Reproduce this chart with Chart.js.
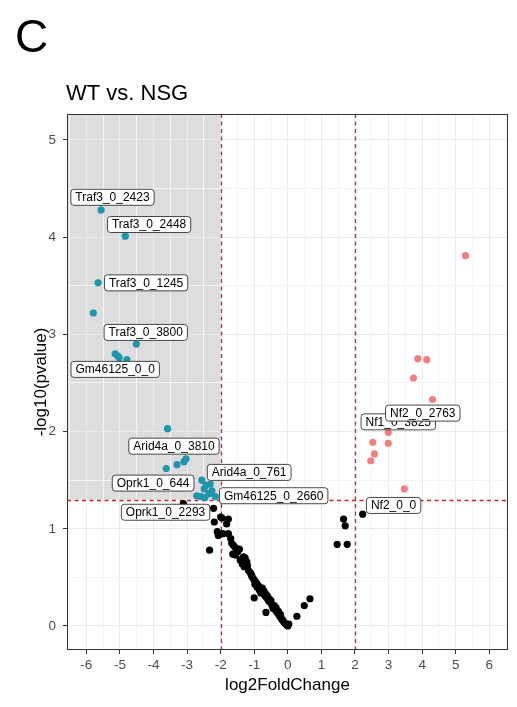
<!DOCTYPE html>
<html>
<head>
<meta charset="utf-8">
<script src="https://cdn.jsdelivr.net/npm/chart.js@4/dist/chart.umd.min.js"></script>
<style>
  html, body { margin: 0; padding: 0; background: #ffffff; }
  canvas { display: block; }
</style>
</head>
<body>
<canvas id="volcano" width="517" height="707"></canvas>
<script>
// Volcano plot: WT vs. NSG (log2 fold change against -log10 p-value)

const panelLetter = 'C';
const plotTitle = 'WT vs. NSG';
const xTitle = 'log2FoldChange';
const yTitle = '-log10(pvalue)';

// cut-offs used for the shaded quadrant and dashed guides
const fcCut = 2;
const pCut = -Math.log10(0.05);

// axis tick labels
const xTickLabels = [-6, -5, -4, -3, -2, -1, 0, 1, 2, 3, 4, 5, 6];
const yTickLabels = [0, 1, 2, 3, 4, 5];

// not significant (black)
const nsPoints = [
  [-3.11, 1.26], [-2.21, 1.21], [-1.96, 1.11], [-1.77, 1.10], [-2.00, 1.12], [-2.19, 1.07],
  [-1.82, 1.05], [-2.10, 0.97], [-2.07, 0.93], [-1.93, 0.95], [-1.77, 0.95], [-2.33, 0.78],
  [-1.70, 0.90], [-1.67, 0.85], [-1.62, 0.83], [-1.57, 0.81], [-1.44, 0.79], [-1.64, 0.74],
  [-1.56, 0.73], [-1.50, 0.76], [-1.32, 0.71], [-1.42, 0.68], [-1.27, 0.70], [-1.22, 0.66],
  [-1.36, 0.64], [-1.30, 0.61], [-1.20, 0.62], [-1.17, 0.57], [-1.12, 0.55], [-1.09, 0.53],
  [-1.07, 0.51], [-1.03, 0.49], [-1.00, 0.47], [-0.97, 0.46], [-0.94, 0.44], [-0.91, 0.43],
  [-0.87, 0.41], [-0.84, 0.40], [-0.81, 0.38], [-0.78, 0.37], [-0.75, 0.36], [-0.73, 0.34],
  [-0.70, 0.33], [-0.68, 0.31], [-0.65, 0.30], [-0.62, 0.29], [-0.60, 0.28], [-0.57, 0.26],
  [-0.54, 0.25], [-0.51, 0.24], [-0.48, 0.22], [-0.45, 0.21], [-0.42, 0.19], [-0.39, 0.18],
  [-0.36, 0.16], [-0.33, 0.15], [-0.30, 0.13], [-0.27, 0.12], [-0.24, 0.10], [-0.21, 0.09],
  [-0.18, 0.07], [-0.15, 0.06], [-0.12, 0.04], [-0.09, 0.03], [-0.06, 0.02], [-0.03, 0.01],
  [0.00, 0.00], [0.03, 0.02], [-0.98, 0.43], [-0.92, 0.40], [-0.85, 0.37], [-0.80, 0.34],
  [-0.76, 0.39], [-0.71, 0.36], [-0.66, 0.33], [-0.61, 0.31], [-0.55, 0.28], [-0.50, 0.26],
  [-0.44, 0.18], [-0.40, 0.21], [-0.35, 0.19], [-0.28, 0.15], [-0.22, 0.12], [-1.00, 0.29],
  [-0.65, 0.14], [0.27, 0.10], [0.49, 0.21], [0.66, 0.28], [1.66, 1.10], [1.71, 1.03],
  [1.47, 0.84], [1.77, 0.84], [2.23, 1.15]
];

// significantly down (teal)
const downPoints = [
  [-5.56, 4.28], [-4.84, 4.01], [-5.65, 3.53], [-5.79, 3.22], [-4.51, 2.90], [-5.14, 2.80],
  [-5.07, 2.78], [-5.02, 2.76], [-4.79, 2.74], [-3.58, 2.03], [-3.62, 1.62], [-3.30, 1.66],
  [-3.09, 1.69], [-3.03, 1.72], [-2.56, 1.50], [-2.43, 1.45], [-2.31, 1.46], [-2.49, 1.41],
  [-2.26, 1.39], [-2.71, 1.34], [-2.58, 1.33], [-2.47, 1.32], [-2.16, 1.33], [-2.35, 1.36]
];

// significantly up (pink)
const upPoints = [
  [5.29, 3.81], [3.87, 2.75], [4.14, 2.74], [3.74, 2.55], [4.31, 2.33], [2.99, 1.99],
  [2.53, 1.89], [2.99, 1.88], [2.58, 1.77], [2.47, 1.70], [3.47, 1.41]
];

// gene labels and where their boxes sit (data units)
const geneLabels = [
  'Traf3_0_2423', 'Traf3_0_2448', 'Traf3_0_1245', 'Traf3_0_3800', 'Gm46125_0_0',
  'Arid4a_0_3810', 'Arid4a_0_761', 'Oprk1_0_644', 'Gm46125_0_2660', 'Oprk1_0_2293',
  'Nf1_0_3825', 'Nf2_0_2763', 'Nf2_0_0'
];
const labelX = [-5.22, -4.13, -4.22, -4.23, -5.14, -3.39, -1.15, -4.01, -0.42, -3.64, 3.29, 4.02, 3.15];
const labelY = [4.41, 4.13, 3.53, 3.02, 2.64, 1.85, 1.58, 1.47, 1.34, 1.17, 2.10, 2.19, 1.24];

const FONT = "'Liberation Sans', Arial, Helvetica, sans-serif";
const toXY = arr => arr.map(p => ({ x: p[0], y: p[1] }));
const isWhole = v => Math.abs(v - Math.round(v)) < 1e-9;

function halfSteps(lo, hi) {
  const out = [];
  for (let v = lo; v <= hi + 1e-9; v += 0.5) out.push({ value: Math.round(v * 10) / 10 });
  return out;
}

function roundRect(ctx, x, y, w, h, r) {
  ctx.beginPath();
  ctx.moveTo(x + r, y);
  ctx.lineTo(x + w - r, y);
  ctx.arcTo(x + w, y, x + w, y + r, r);
  ctx.lineTo(x + w, y + h - r);
  ctx.arcTo(x + w, y + h, x + w - r, y + h, r);
  ctx.lineTo(x + r, y + h);
  ctx.arcTo(x, y + h, x, y + h - r, r);
  ctx.lineTo(x, y + r);
  ctx.arcTo(x, y, x + r, y, r);
  ctx.closePath();
}

const panelDecor = {
  id: 'panelDecor',
  beforeDraw(chart) {
    const { ctx, chartArea: a, scales: { x, y } } = chart;
    ctx.save();
    ctx.fillStyle = '#ffffff';
    ctx.fillRect(0, 0, chart.width, chart.height);
    // shaded region: strong down-regulation
    const xr = x.getPixelForValue(-fcCut);
    const yb = y.getPixelForValue(pCut);
    ctx.fillStyle = '#DDDDDD';
    ctx.fillRect(a.left, a.top, xr - a.left, yb - a.top);
    ctx.restore();
  },
  beforeDatasetsDraw(chart) {
    const { ctx, chartArea: a, scales: { x, y } } = chart;
    ctx.save();
    ctx.strokeStyle = '#C8262B';
    ctx.lineWidth = 1.3;
    ctx.setLineDash([4, 3.5]);
    [-fcCut, fcCut].forEach(v => {
      const px = Math.round(x.getPixelForValue(v)) + 0.5;
      ctx.beginPath();
      ctx.moveTo(px, a.top);
      ctx.lineTo(px, a.bottom);
      ctx.stroke();
    });
    const py = Math.round(y.getPixelForValue(pCut)) + 0.5;
    ctx.beginPath();
    ctx.moveTo(a.left, py);
    ctx.lineTo(a.right, py);
    ctx.stroke();
    ctx.restore();
  },
  afterDatasetsDraw(chart) {
    const { ctx, chartArea: a, scales: { x, y } } = chart;
    ctx.save();
    // gene labels
    ctx.font = '12px ' + FONT;
    ctx.textAlign = 'center';
    ctx.textBaseline = 'middle';
    geneLabels.forEach((name, i) => {
      const cx = x.getPixelForValue(labelX[i]);
      const cy = y.getPixelForValue(labelY[i]);
      const w = ctx.measureText(name).width + 9;
      const h = 16;
      roundRect(ctx, cx - w / 2, cy - h / 2, w, h, 3);
      ctx.fillStyle = '#ffffff';
      ctx.fill();
      ctx.strokeStyle = '#333333';
      ctx.lineWidth = 0.9;
      ctx.stroke();
      ctx.fillStyle = '#000000';
      ctx.fillText(name, cx, cy + 0.5);
    });
    // panel border
    ctx.strokeStyle = '#333333';
    ctx.lineWidth = 1;
    ctx.strokeRect(a.left + 0.5, a.top + 0.5, a.right - a.left - 1, a.bottom - a.top - 1);
    ctx.restore();
  },
  afterDraw(chart) {
    const { ctx, chartArea: a } = chart;
    ctx.save();
    ctx.fillStyle = '#000000';
    ctx.textBaseline = 'alphabetic';
    ctx.textAlign = 'left';
    ctx.font = '46px ' + FONT;
    ctx.fillText(panelLetter, 15, 52);
    ctx.font = '22px ' + FONT;
    ctx.fillText(plotTitle, 66, 100);
    ctx.font = '17px ' + FONT;
    ctx.textAlign = 'center';
    ctx.fillText(xTitle, (a.left + a.right) / 2, 690);
    ctx.translate(46, (a.top + a.bottom) / 2);
    ctx.rotate(-Math.PI / 2);
    ctx.fillText(yTitle, 0, 0);
    ctx.restore();
  }
};

const pointStyle = color => ({
  backgroundColor: color,
  borderWidth: 0,
  pointRadius: 3.6,
  pointHoverRadius: 3.6
});

new Chart(document.getElementById('volcano'), {
  type: 'scatter',
  data: {
    datasets: [
      Object.assign({ label: 'NS', data: toXY(nsPoints) }, pointStyle('#000000')),
      Object.assign({ label: 'Down', data: toXY(downPoints) }, pointStyle('#1F96AB')),
      Object.assign({ label: 'Up', data: toXY(upPoints) }, pointStyle('#F08080'))
    ]
  },
  options: {
    responsive: false,
    animation: false,
    devicePixelRatio: 1,
    layout: { padding: { top: 114, right: 9, bottom: 0, left: 0 } },
    plugins: { legend: { display: false }, tooltip: { enabled: false } },
    scales: {
      x: {
        type: 'linear',
        min: -6.575,
        max: 6.557,
        afterBuildTicks: s => { s.ticks = halfSteps(-6.5, 6.5); },
        afterFit: s => { s.height = 57; },
        border: { display: false },
        grid: {
          color: c => isWhole(c.tick.value) ? '#EBEBEB' : '#F4F4F4',
          lineWidth: 1,
          tickColor: c => isWhole(c.tick.value) ? '#333333' : 'rgba(0,0,0,0)',
          tickLength: 4
        },
        ticks: {
          autoSkip: false,
          maxRotation: 0,
          padding: 3,
          color: '#4D4D4D',
          font: { family: FONT, size: 13.5 },
          callback: v => xTickLabels.includes(v) ? String(v) : ''
        }
      },
      y: {
        type: 'linear',
        min: -0.247,
        max: 5.267,
        afterBuildTicks: s => { s.ticks = halfSteps(0, 5); },
        afterFit: s => { s.width = 67; },
        border: { display: false },
        grid: {
          color: c => isWhole(c.tick.value) ? '#EBEBEB' : '#F4F4F4',
          lineWidth: 1,
          tickColor: c => isWhole(c.tick.value) ? '#333333' : 'rgba(0,0,0,0)',
          tickLength: 4
        },
        ticks: {
          autoSkip: false,
          padding: 7,
          color: '#4D4D4D',
          font: { family: FONT, size: 13.5 },
          callback: v => yTickLabels.includes(v) ? String(v) : ''
        }
      }
    }
  },
  plugins: [panelDecor]
});
</script>
</body>
</html>
